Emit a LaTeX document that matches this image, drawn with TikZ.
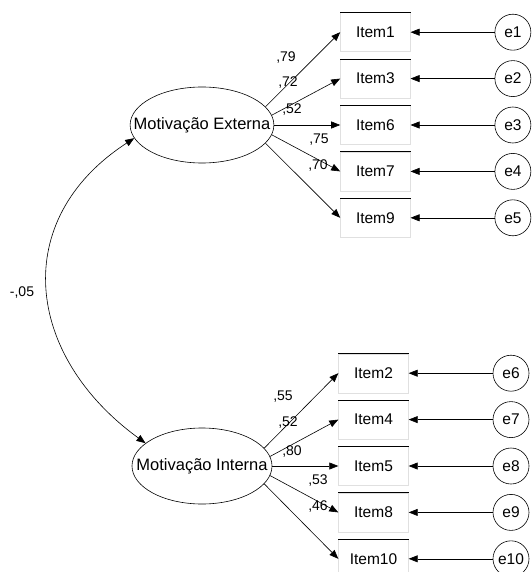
\documentclass[tikz,border=0pt]{standalone}
\usepackage{fontspec}
\setmainfont{Liberation Sans}
\usetikzlibrary{positioning,arrows.meta,shapes.geometric}
\tikzset{seta/.style={line width=0.6pt, -{Triangle[length=9pt,width=7pt]}}}
\tikzset{covar/.style={line width=0.6pt, {Triangle[length=9pt,width=7pt]}-{Triangle[length=9pt,width=7pt]}}}
\tikzset{item/.style={draw=black!12, minimum width=70pt, minimum height=39pt, inner sep=0pt,
  append after command={(\tikzlastnode.north west) edge[draw=black, line width=0.6pt] (\tikzlastnode.north east)}}}
\tikzset{erro/.style={draw, circle, minimum size=36pt, inner sep=0pt, line width=0.6pt}}
\tikzset{fator/.style={draw, ellipse, minimum width=140pt, minimum height=76pt, inner xsep=-17.5pt, inner ysep=0pt,
  line width=0.6pt, font=\fontsize{16.5}{19}\selectfont}}
\tikzset{peso/.style={font=\fontsize{14}{16}\selectfont, inner sep=0pt}}

\begin{document}
\begin{tikzpicture}[x=1pt, y=-1pt, font=\fontsize{15.5}{18}\selectfont]
            \useasboundingbox (0,0) rectangle (531,572);

            % fatores
            \node[fator] (ext) at (202,125) {Motiva\c{c}\~ao Externa};
            \node[fator] (int) at (202,466) {Motiva\c{c}\~ao Interna};

            % itens da motivacao externa
            \node[item, right=66pt of ext] (i6) {Item6};
            \node[item, above=7pt of i6] (i3) {Item3};
            \node[item, above=7pt of i3] (i1) {Item1};
            \node[item, below=7pt of i6] (i7) {Item7};
            \node[item, below=7pt of i7] (i9) {Item9};

            % itens da motivacao interna
            \node[item, right=66pt of int] (i5) {Item5};
            \node[item, above=7pt of i5] (i4) {Item4};
            \node[item, above=7pt of i4] (i2) {Item2};
            \node[item, below=7pt of i5] (i8) {Item8};
            \node[item, below=7pt of i8] (i10) {Item10};

            % erros
            \node[erro, right=84pt of i1] (e1) {e1};
            \node[erro, right=84pt of i3] (e2) {e2};
            \node[erro, right=84pt of i6] (e3) {e3};
            \node[erro, right=84pt of i7] (e4) {e4};
            \node[erro, right=84pt of i9] (e5) {e5};
            \node[erro, right=84pt of i2] (e6) {e6};
            \node[erro, right=84pt of i4] (e7) {e7};
            \node[erro, right=84pt of i5] (e8) {e8};
            \node[erro, right=84pt of i8] (e9) {e9};
            \node[erro, right=84pt of i10] (e10) {e10};

            % cargas
            \node[peso] (c1) at (286,58) {,79};
            \node[peso] (c3) at (288,83) {,72};
            \node[peso] (c6) at (292,110) {,52};
            \node[peso] (c7) at (319,140) {,75};
            \node[peso] (c9) at (318,166) {,70};
            \node[peso] (c2) at (283,397) {,55};
            \node[peso] (c4) at (288,423) {,52};
            \node[peso] (c5) at (292,452) {,80};
            \node[peso] (c8) at (318,481) {,53};
            \node[peso] (c10) at (318,507) {,46};
            \node[peso] (cov) at (22,293) {-,05};

            \draw[seta] (ext.16) -- (i1.west);
            \draw[seta] (ext.8) -- (i3.west);
            \draw[seta] (ext.east) -- (i6.west);
            \draw[seta] (ext.-8) -- (i7.west);
            \draw[seta] (ext.-16) -- (i9.west);
            \draw[seta] (int.16) -- (i2.west);
            \draw[seta] (int.8) -- (i4.west);
            \draw[seta] (int.east) -- (i5.west);
            \draw[seta] (int.-8) -- (i8.west);
            \draw[seta] (int.-16) -- (i10.west);

            \draw[seta] (e1) -- (i1);
            \draw[seta] (e2) -- (i3);
            \draw[seta] (e3) -- (i6);
            \draw[seta] (e4) -- (i7);
            \draw[seta] (e5) -- (i9);
            \draw[seta] (e6) -- (i2);
            \draw[seta] (e7) -- (i4);
            \draw[seta] (e8) -- (i5);
            \draw[seta] (e9) -- (i8);
            \draw[seta] (e10) -- (i10);

            \draw[covar] (ext.191) to[out=213, in=144, looseness=1.25] (int.158);
        \end{tikzpicture}
\end{document}
